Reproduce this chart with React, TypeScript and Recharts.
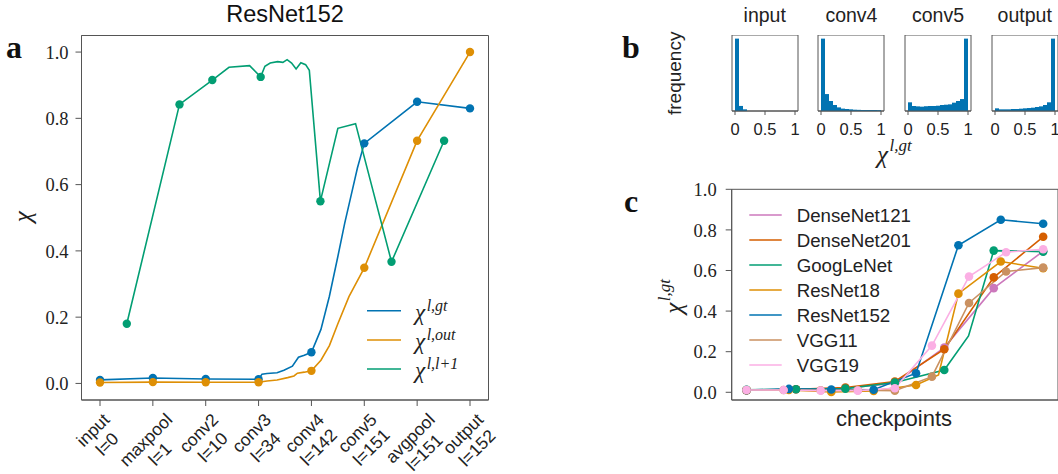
import { Bar, BarChart, ComposedChart, Line, ReferenceArea, XAxis, YAxis } from "recharts"

const SANS = '"Liberation Sans", Arial, sans-serif'
const SERIF = '"Liberation Serif", "Times New Roman", serif'
const AXIS = "#555"
const TXT = "#222"

const BLUE = "#0173b2"
const ORANGE = "#de8f05"
const GREEN = "#029e73"
const VERMIL = "#d55e00"
const PURPLE = "#cc78bc"
const BROWN = "#ca9161"
const PINK = "#fbafe4"

// ---- panel a: ResNet152, checkpoints on x (fractional = layers in between)
const layerNames = ["input", "maxpool", "conv2", "conv3", "conv4", "conv5", "avgpool", "output"]
const layerIdx = [0, 1, 10, 34, 142, 151, 151, 152]
const yTicksA = [0, 0.2, 0.4, 0.6, 0.8, 1.0]

// [x, chi, marker]
type Pt = [number, number, number]
const chiGt: Pt[] = [
  [0, 0.0106, 1], [1, 0.0166, 1], [2, 0.0136, 1], [3, 0.0126, 1],
  [3.065, 0.028, 0], [3.16, 0.03, 0], [3.35, 0.032, 0], [3.48, 0.04, 0],
  [3.64, 0.052, 0], [3.755, 0.079, 0], [3.865, 0.085, 0], [4, 0.094, 1],
  [4.18, 0.163, 0], [4.34, 0.263, 0], [4.5, 0.383, 0], [4.63, 0.484, 0],
  [4.74, 0.56, 0], [4.87, 0.65, 0], [5, 0.7245, 1], [6, 0.85, 1], [7, 0.83, 1],
]
const chiOut: Pt[] = [
  [0, 0.003, 1], [1, 0.004, 1], [2, 0.0035, 1], [3, 0.0035, 1],
  [3.16, 0.0075, 0], [3.35, 0.0105, 0], [3.55, 0.0175, 0], [3.67, 0.0226, 0],
  [3.735, 0.031, 0], [3.865, 0.034, 0], [4, 0.038, 1],
  [4.18, 0.07, 0], [4.34, 0.114, 0], [4.5, 0.18, 0], [4.71, 0.262, 0],
  [5, 0.349, 1], [6, 0.7325, 1], [7, 1.0, 1],
]
const chiNext: Pt[] = [
  [0.507, 0.18, 1], [1.504, 0.842, 1], [2.125, 0.9155, 1], [2.44, 0.954, 0],
  [2.83, 0.959, 0], [3.04, 0.925, 1], [3.12, 0.957, 0], [3.22, 0.967, 0],
  [3.36, 0.971, 0], [3.46, 0.969, 0], [3.54, 0.977, 0], [3.625, 0.967, 0],
  [3.71, 0.949, 0], [3.8, 0.968, 0], [3.89, 0.962, 0], [3.96, 0.945, 0],
  [4.17, 0.55, 1], [4.5, 0.77, 0], [4.835, 0.784, 0], [5.515, 0.367, 1],
  [6.51, 0.7325, 1],
]

// ---- panel b: histograms of chi^{l,gt}, 15 bins on [0, 1], normalised to max
const histTitles = ["input", "conv4", "conv5", "output"]
const histInput = [1.0, 0.07, 0.023, 0, 0, 0, 0, 0, 0, 0, 0, 0, 0, 0, 0]
const histConv4 = [1.0, 0.234, 0.138, 0.083, 0.05, 0.033, 0.028, 0.023, 0.018, 0.016, 0.014, 0.014, 0.014, 0.014, 0.012]
const histConv5 = [0.12, 0.069, 0.064, 0.06, 0.066, 0.069, 0.069, 0.073, 0.083, 0.087, 0.092, 0.115, 0.138, 0.165, 1.0]
const histOutput = [0.037, 0.023, 0.023, 0.023, 0.028, 0.028, 0.032, 0.037, 0.041, 0.046, 0.055, 0.064, 0.083, 0.12, 1.0]
const histTicks = [0, 0.5, 1]

// ---- panel c: chi^{l,gt} per checkpoint, x normalised to [0, 1]
const netNames = ["DenseNet121", "DenseNet201", "GoogLeNet", "ResNet18", "ResNet152", "VGG11", "VGG19"]
const netColors = [PURPLE, VERMIL, GREEN, ORANGE, BLUE, BROWN, PINK]
const dn121 = [0.01, 0.015, 0.02, 0.045, 0.22, 0.513, 0.695]
const dn201 = [0.01, 0.015, 0.023, 0.053, 0.212, 0.566, 0.766]
const googlenet = [0.012, 0.015, 0.018, 0.048, 0.11, 0.698, 0.693]
const resnet18 = [0.01, 0.012, 0.002, 0.007, 0.036, 0.486, 0.644, 0.611]
const resnet152 = [0.0106, 0.0166, 0.0136, 0.0126, 0.094, 0.7245, 0.85, 0.83]
const vgg11 = [0.011, 0.011, 0.01, 0.01, 0.008, 0.077, 0.44, 0.595, 0.614]
const vgg19 = [0.011, 0.011, 0.008, 0.008, 0.02, 0.23, 0.57, 0.69, 0.705]
// unmarked intermediate layers: [fractional checkpoint index, value]
const googlenetExtra = [[4.49, 0.278]]
const resnet18Extra = [[4.53, 0.085]]
const yTicksC = [0, 0.2, 0.4, 0.6, 0.8, 1.0]

const toRows = (pts: Pt[]) => pts.map(([x, y, m]) => ({ x, y, m }))

function netRows(values: number[], extra: number[][] = []) {
  const n = values.length - 1
  const rows = values.map((v, i) => ({ x: i / n, y: v, m: 1 }))
  extra.forEach(([p, v]) => rows.push({ x: p / n, y: v, m: 0 }))
  return rows.sort((a, b) => a.x - b.x)
}

const netData = [
  netRows(dn121),
  netRows(dn201),
  netRows(googlenet, googlenetExtra),
  netRows(resnet18, resnet18Extra),
  netRows(resnet152),
  netRows(vgg11),
  netRows(vgg19),
]

const histData = [histInput, histConv4, histConv5, histOutput].map((h) =>
  h.map((v, i) => ({ c: (i + 0.5) / h.length, h: v }))
)

let ctx: CanvasRenderingContext2D | null = null
function textWidth(s: string, font: string) {
  if (!ctx && typeof document !== "undefined") ctx = document.createElement("canvas").getContext("2d")
  if (!ctx) return s.length * 9
  ctx.font = font
  return ctx.measureText(s).width
}

const XLAB = 17.5

function LayerTick({ x, y, payload }: any) {
  const i = payload.value as number
  const top = layerNames[i]
  const bottom = `l=${layerIdx[i]}`
  const font = `${XLAB}px ${SANS}`
  const w = Math.max(textWidth(top, font), textWidth(bottom, font))
  const lh = 20
  const s = 2.5 + (w + 2 * lh) / 4
  const style = { fontFamily: SANS, fontSize: XLAB, fill: TXT }
  return (
    <g transform={`translate(${x},${y}) rotate(-45)`}>
      <text x={-s} y={s - lh / 2} textAnchor="middle" dominantBaseline="central" style={style}>
        {top}
      </text>
      <text x={-s} y={s + lh / 2} textAnchor="middle" dominantBaseline="central" style={style}>
        {bottom}
      </text>
    </g>
  )
}

function SerifTick({ x, y, payload }: any) {
  return (
    <text x={x} y={y} dy="0.36em" textAnchor="end" style={{ fontFamily: SERIF, fontSize: 18.5, fill: TXT }}>
      {Number(payload.value).toFixed(1)}
    </text>
  )
}

function markerDot(color: string, r = 4.2) {
  return (p: any) =>
    p.payload && p.payload.m ? (
      <circle key={`m${p.index}`} cx={p.cx} cy={p.cy} r={r} fill={color} stroke="none" />
    ) : (
      <g key={`n${p.index}`} />
    )
}

function PanelA() {
  const series = [
    { rows: toRows(chiGt), color: BLUE },
    { rows: toRows(chiOut), color: ORANGE },
    { rows: toRows(chiNext), color: GREEN },
  ]
  return (
    <ComposedChart width={500} height={474} margin={{ top: 35.5, right: 11.5, bottom: 0, left: 0 }}>
      <XAxis
        type="number"
        dataKey="x"
        domain={[-0.35, 7.35]}
        ticks={[0, 1, 2, 3, 4, 5, 6, 7]}
        interval={0}
        allowDataOverflow
        height={74}
        tickSize={6}
        tickMargin={0}
        stroke={AXIS}
        tick={<LayerTick />}
      />
      <YAxis
        type="number"
        domain={[-0.05, 1.05]}
        ticks={yTicksA}
        interval={0}
        allowDataOverflow
        width={81.5}
        tickSize={6}
        tickMargin={7}
        stroke={AXIS}
        tick={<SerifTick />}
      />
      <ReferenceArea x1={-0.35} x2={7.35} y1={-0.05} y2={1.05} fill="none" stroke={AXIS} ifOverflow="visible" />
      {series.map((s, i) => (
        <Line
          key={i}
          data={s.rows}
          dataKey="y"
          type="linear"
          stroke={s.color}
          strokeWidth={1.6}
          dot={markerDot(s.color)}
          activeDot={false}
          isAnimationActive={false}
        />
      ))}
    </ComposedChart>
  )
}

function Hist({ data }: { data: { c: number; h: number }[] }) {
  return (
    <BarChart
      width={90}
      height={110}
      data={data}
      margin={{ top: 0, right: 12, bottom: 0, left: 12 }}
      barCategoryGap={0}
      barGap={0}
    >
      <XAxis
        type="number"
        dataKey="c"
        domain={[-0.05, 1.05]}
        ticks={histTicks}
        interval={0}
        allowDataOverflow
        height={34}
        tickSize={4}
        tickMargin={8}
        stroke={AXIS}
        tick={{ fontFamily: SANS, fontSize: 16.5, fill: TXT }}
        tickFormatter={(v) => String(v)}
      />
      <YAxis hide domain={[0, 1.05]} allowDataOverflow />
      <ReferenceArea x1={-0.05} x2={1.05} y1={0} y2={1.05} fill="none" stroke={AXIS} ifOverflow="visible" />
      <Bar dataKey="h" fill={BLUE} isAnimationActive={false} />
    </BarChart>
  )
}

function PanelC() {
  return (
    <ComposedChart width={458} height={294} margin={{ top: 9.3, right: 0, bottom: 0, left: 0 }}>
      <XAxis
        type="number"
        dataKey="x"
        domain={[-0.05, 1.05]}
        allowDataOverflow
        height={74}
        tick={false}
        tickLine={false}
        stroke={AXIS}
      />
      <YAxis
        type="number"
        domain={[-0.038, 1.0]}
        ticks={yTicksC}
        interval={0}
        allowDataOverflow
        width={131.7}
        tickSize={6}
        tickMargin={9}
        stroke={AXIS}
        tick={<SerifTick />}
      />
      <ReferenceArea x1={-0.05} x2={1.05} y1={-0.038} y2={1.0} fill="none" stroke={AXIS} ifOverflow="visible" />
      {netData.map((rows, i) => (
        <Line
          key={netNames[i]}
          data={rows}
          dataKey="y"
          type="linear"
          stroke={netColors[i]}
          strokeWidth={1.6}
          dot={markerDot(netColors[i], 4.3)}
          activeDot={false}
          isAnimationActive={false}
        />
      ))}
    </ComposedChart>
  )
}

function Chi({ x, y, sup, size = 22, supSize = 15, rise = 8, anchor = "start", transform }: any) {
  return (
    <text x={x} y={y} textAnchor={anchor} transform={transform} style={{ fontFamily: SERIF, fontStyle: "italic", fill: TXT }}>
      <tspan fontSize={size}>χ</tspan>
      {sup ? (
        <tspan fontSize={supSize} dx={1.5} dy={-rise}>
          {sup}
        </tspan>
      ) : null}
    </text>
  )
}

function Overlay() {
  const legendA = [
    { sup: "l,gt", color: BLUE },
    { sup: "l,out", color: ORANGE },
    { sup: "l,l+1", color: GREEN },
  ]
  const rowsA = [310.7, 340, 369]
  const boxL = [731.7, 818.4, 905, 991.7]
  return (
    <svg width={1058} height={474} style={{ position: "absolute", left: 0, top: 0, pointerEvents: "none" }}>
      {/* panel letters */}
      <text x={6} y={58} style={{ fontFamily: SERIF, fontWeight: "bold", fontSize: 32, fill: "#111" }}>a</text>
      <text x={622} y={58} style={{ fontFamily: SERIF, fontWeight: "bold", fontSize: 32, fill: "#111" }}>b</text>
      <text x={624} y={212} style={{ fontFamily: SERIF, fontWeight: "bold", fontSize: 32, fill: "#111" }}>c</text>

      {/* panel a */}
      <text x={285} y={21.7} textAnchor="middle" style={{ fontFamily: SANS, fontSize: 23.5, fill: "#111" }}>
        ResNet152
      </text>
      <Chi x={0} y={0} size={25} anchor="middle" transform="translate(31,216.7) rotate(-90)" />
      {legendA.map((l, i) => (
        <g key={l.sup}>
          <line x1={367} x2={401} y1={rowsA[i]} y2={rowsA[i]} stroke={l.color} strokeWidth={1.6} />
          <Chi x={415} y={rowsA[i] + 9} sup={l.sup} size={23} supSize={16} rise={9} />
        </g>
      ))}

      {/* panel b */}
      {histTitles.map((t, i) => (
        <text key={t} x={boxL[i] + 33} y={21.7} textAnchor="middle" style={{ fontFamily: SANS, fontSize: 19.5, fill: TXT }}>
          {t}
        </text>
      ))}
      <text transform="translate(681,73.3) rotate(-90)" textAnchor="middle" style={{ fontFamily: SANS, fontSize: 19, fill: TXT }}>
        frequency
      </text>
      <Chi x={877} y={163} sup="l,gt" size={25} supSize={17} rise={12} />

      {/* panel c */}
      <Chi x={0} y={0} sup="l,gt" size={25} supSize={17} rise={12} anchor="middle" transform="translate(682,296.5) rotate(-90)" />
      <text x={894} y={426} textAnchor="middle" style={{ fontFamily: SANS, fontSize: 22, fill: TXT }}>
        checkpoints
      </text>
      {netNames.map((n, i) => (
        <g key={n}>
          <line x1={749.3} x2={781.7} y1={215 + 25 * i} y2={215 + 25 * i} stroke={netColors[i]} strokeWidth={1.6} />
          <text x={796.7} y={215 + 25 * i + 6.7} style={{ fontFamily: SANS, fontSize: 18.7, fill: TXT }}>
            {n}
          </text>
        </g>
      ))}
    </svg>
  )
}

export default function App() {
  const boxL = [731.7, 818.4, 905, 991.7]
  return (
    <div style={{ position: "absolute", left: 0, top: 0, width: 1058, height: 474, background: "#fff", overflow: "hidden" }}>
      <div style={{ position: "absolute", left: 0, top: 0 }}>
        <PanelA />
      </div>
      {histData.map((d, i) => (
        <div key={i} style={{ position: "absolute", left: boxL[i] - 12, top: 35 }}>
          <Hist data={d} />
        </div>
      ))}
      <div style={{ position: "absolute", left: 600, top: 180 }}>
        <PanelC />
      </div>
      <Overlay />
    </div>
  )
}
